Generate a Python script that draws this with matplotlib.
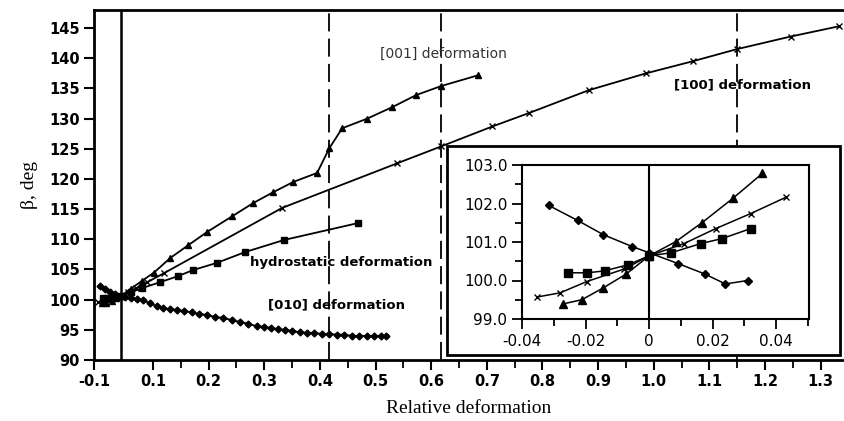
import numpy as np
import matplotlib
matplotlib.use("Agg")
import matplotlib.pyplot as plt
from matplotlib.patches import Rectangle

# main plot, x in axis units
x_left = -0.006
x_right = 1.342
x_zero = 0.042

tri_x = [0.008, 0.016, 0.026, 0.034, 0.042, 0.060, 0.080, 0.102, 0.131, 0.163, 0.197,
         0.242, 0.280, 0.316, 0.352, 0.395, 0.417, 0.440, 0.485, 0.530, 0.573, 0.618, 0.685]
tri_y = [99.4, 99.5, 99.8, 100.2, 100.6, 101.8, 103.1, 104.5, 106.9, 109.0, 111.2,
         113.8, 116.0, 117.8, 119.5, 121.0, 125.1, 128.4, 130.0, 131.9, 133.9, 135.4, 137.2]

crs_x = [0.002, 0.010, 0.020, 0.032, 0.042, 0.055, 0.070, 0.090, 0.120, 0.332, 0.539,
         0.618, 0.710, 0.775, 0.883, 0.986, 1.070, 1.149, 1.246, 1.333]
crs_y = [99.6, 99.7, 100.0, 100.3, 100.6, 101.2, 101.9, 102.9, 104.4, 115.2, 122.6,
         125.4, 128.7, 130.9, 134.7, 137.5, 139.5, 141.5, 143.6, 145.3]

sq_x = [0.010, 0.018, 0.025, 0.034, 0.042, 0.060, 0.080, 0.113, 0.145, 0.172, 0.215,
        0.266, 0.336, 0.469]
sq_y = [100.2, 100.2, 100.25, 100.4, 100.6, 101.2, 101.9, 102.9, 103.9, 104.9, 106.1,
        107.9, 109.9, 112.7]

dia_x = [0.005, 0.013, 0.022, 0.032, 0.042, 0.050, 0.060, 0.071, 0.082, 0.095, 0.107,
         0.118, 0.131, 0.143, 0.156, 0.170, 0.183, 0.197, 0.212, 0.226, 0.242, 0.257,
         0.271, 0.287, 0.300, 0.312, 0.325, 0.338, 0.350, 0.365, 0.377, 0.390, 0.404,
         0.417, 0.431, 0.444, 0.458, 0.471, 0.485, 0.498, 0.510, 0.519]
dia_y = [102.2, 101.7, 101.2, 100.9, 100.6, 100.4, 100.3, 100.1, 99.9, 99.4, 98.9,
         98.6, 98.4, 98.3, 98.1, 97.9, 97.6, 97.5, 97.1, 97.0, 96.6, 96.3,
         96.0, 95.6, 95.5, 95.3, 95.1, 95.0, 94.8, 94.6, 94.5, 94.5, 94.3,
         94.3, 94.2, 94.2, 94.0, 94.0, 94.0, 94.0, 94.0, 94.0]

dash_x = [0.417, 0.618, 1.149]

xtick_pos = [x_left, 0.1, 0.2, 0.3, 0.4, 0.5, 0.6, 0.7, 0.8, 0.9, 1.0, 1.1, 1.2, 1.3]
xtick_lab = ["-0.1", "0.1", "0.2", "0.3", "0.4", "0.5", "0.6", "0.7", "0.8", "0.9",
             "1.0", "1.1", "1.2", "1.3"]
yticks = [90, 95, 100, 105, 110, 115, 120, 125, 130, 135, 140, 145]

# inset (near zero deformation)
in_dia_x = [-0.0316, -0.0225, -0.0144, -0.0053, 0.0, 0.0091, 0.0175, 0.0240, 0.0310]
in_dia_y = [101.95, 101.56, 101.19, 100.88, 100.72, 100.44, 100.17, 99.91, 100.0]
in_tri_x = [-0.0272, -0.0212, -0.0144, -0.0072, 0.0, 0.0084, 0.0166, 0.0263, 0.0356]
in_tri_y = [99.39, 99.50, 99.81, 100.17, 100.64, 101.01, 101.50, 102.13, 102.78]
in_crs_x = [-0.0353, -0.0280, -0.0197, -0.0078, 0.0, 0.0110, 0.0210, 0.0320, 0.0430]
in_crs_y = [99.57, 99.68, 99.97, 100.30, 100.64, 100.96, 101.35, 101.74, 102.16]
in_sq_x = [-0.0256, -0.0194, -0.0140, -0.0066, 0.0, 0.0069, 0.0163, 0.0230, 0.0320]
in_sq_y = [100.20, 100.20, 100.25, 100.41, 100.64, 100.72, 100.96, 101.09, 101.35]

fig = plt.figure(figsize=(8.44, 4.21), dpi=100)
ax = fig.add_axes([94/844, 61/421, 750/844, 350/421])

lw = 1.3
ax.plot(tri_x, tri_y, "k-", marker="^", ms=5, lw=lw)
ax.plot(crs_x, crs_y, "k-", marker="x", ms=5, mew=1.0, lw=lw)
ax.plot(sq_x, sq_y, "k-", marker="s", ms=5, lw=lw)
ax.plot(dia_x, dia_y, "k-", marker="D", ms=3.5, lw=lw)

ax.axvline(x_zero, color="k", lw=1.8)
for xd in dash_x:
    ax.axvline(xd, color="k", lw=1.3, ls=(0, (10, 4)))

ax.text(0.622, 140.8, "[001] deformation", fontsize=10, color="#333333", ha="center", va="center")
ax.text(1.16, 135.5, "[100] deformation", fontsize=9.5, weight="bold", ha="center", va="center")
ax.text(0.438, 106.2, "hydrostatic deformation", fontsize=9.5, weight="bold", ha="center", va="center")
ax.text(0.430, 99.1, "[010] deformation", fontsize=9.5, weight="bold", ha="center", va="center")

ax.set_xlim(x_left, x_right)
ax.set_ylim(90, 148)
ax.set_xticks(xtick_pos)
ax.set_xticklabels(xtick_lab)
ax.set_xticks(np.arange(0.15, 1.3, 0.1), minor=True)
ax.set_yticks(yticks)
ax.tick_params(axis="both", which="major", direction="out", length=7, width=1.5,
               labelsize=10.5, pad=3)
ax.tick_params(axis="x", which="minor", direction="out", length=6, width=1.3)
for lab in ax.get_xticklabels() + ax.get_yticklabels():
    lab.set_fontweight("bold")
for s in ["left", "bottom", "top"]:
    ax.spines[s].set_linewidth(2)
ax.spines["right"].set_visible(False)
ax.set_xlabel("Relative deformation", family="Liberation Serif", fontsize=14, labelpad=8)
ax.set_ylabel("β, deg", family="Liberation Serif", fontsize=14, labelpad=8)

# white box behind the inset
box = Rectangle((447/844, 66/421), 393/844, 209/421, transform=fig.transFigure,
                facecolor="white", edgecolor="k", lw=2, zorder=10, clip_on=False)
ax.add_patch(box)

axi = fig.add_axes([522/844, 102/421, 287/844, 154/421])
axi.plot(in_dia_x, in_dia_y, "k-", marker="D", ms=4.5, lw=1.1)
axi.plot(in_tri_x, in_tri_y, "k-", marker="^", ms=5.5, lw=1.1)
axi.plot(in_crs_x, in_crs_y, "k-", marker="x", ms=5, mew=1.0, lw=1.1)
axi.plot(in_sq_x, in_sq_y, "k-", marker="s", ms=5.5, lw=1.1)
axi.axvline(0, color="k", lw=1.5)
axi.set_xlim(-0.04, 0.0503)
axi.set_ylim(99, 103)
axi.set_xticks([-0.04, -0.02, 0, 0.02, 0.04])
axi.set_xticklabels(["-0.04", "-0.02", "0", "0.02", "0.04"])
axi.set_xticks([-0.03, -0.01, 0.01, 0.03, 0.05], minor=True)
axi.set_yticks([99, 100, 101, 102, 103])
axi.set_yticklabels(["99.0", "100.0", "101.0", "102.0", "103.0"])
axi.set_yticks([99.5, 100.5, 101.5, 102.5], minor=True)
axi.tick_params(which="both", direction="out", labelsize=11, width=1.3)
axi.tick_params(which="major", length=7)
axi.tick_params(which="minor", length=5)
for s in axi.spines.values():
    s.set_linewidth(1.5)

fig.savefig("out.png", dpi=100)
